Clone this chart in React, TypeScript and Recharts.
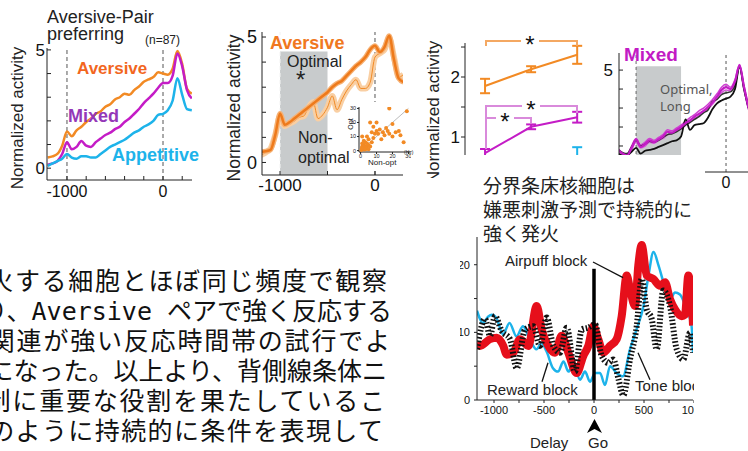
import React from 'react';
import {
  LineChart,
  Line,
  XAxis,
  YAxis,
  ReferenceLine,
  ReferenceArea,
  ErrorBar,
  ScatterChart,
  Scatter
} from 'recharts';

const FONT = '"Liberation Sans", Arial, sans-serif';
const JP = '"Noto Sans CJK JP", sans-serif';
const MONO_JP = '"DejaVu Sans Mono", "Noto Sans CJK JP", monospace';

const ORANGE = '#F28A24';
const ORANGE_TXT = '#F2661E';
const MAGENTA = '#C41CC6';
const PURPLE_TXT = '#9438B8';
const CYAN = '#1DB3EA';
const RED = '#E60F1B';
const GRAY_BOX = '#C8CBCC';
const AXIS = '#222';

// panel A / B: time in ms relative to outcome
const timeAB = [-1200, -1150, -1100, -1050, -1000, -950, -900, -850, -800, -750, -700, -650, -600, -550, -500, -450, -400, -350, -300, -250, -200, -150, -100, -50, 0, 50, 100, 150, 200, 250, 300];
const aversiveA = [0.45, 0.5, 0.6, 0.95, 1.55, 1.35, 1.6, 1.75, 1.95, 2.1, 2.3, 2.4, 2.6, 2.7, 2.9, 3.0, 3.15, 3.1, 3.3, 3.45, 3.65, 3.75, 3.85, 4.05, 4.0, 3.95, 4.2, 4.95, 4.4, 3.35, 3.15];
const mixedA = [0.15, 0.2, 0.3, 0.6, 1.1, 0.8, 0.9, 1.15, 0.95, 0.9, 1.1, 1.25, 1.4, 1.5, 1.65, 1.75, 1.95, 2.1, 2.3, 2.5, 2.75, 2.95, 3.15, 3.4, 3.6, 3.6, 3.9, 4.85, 4.3, 3.3, 2.95];
const appetitiveA = [0.1, 0.2, 0.3, 0.4, 0.6, 0.45, 0.4, 0.5, 0.5, 0.45, 0.45, 0.6, 0.75, 0.9, 1.0, 1.1, 1.2, 1.35, 1.5, 1.6, 1.75, 1.85, 2.0, 2.25, 2.3, 2.45, 2.85, 3.8, 3.1, 2.5, 2.45];
const optimalB = [0.42, 0.45, 0.5, 1.1, 1.95, 1.5, 1.6, 1.75, 1.9, 2.05, 2.2, 2.35, 2.5, 2.65, 2.8, 3.0, 3.15, 3.25, 3.45, 3.65, 3.85, 4.0, 4.2, 4.5, 4.65, 4.4, 4.6, 5.05, 4.1, 3.35, 3.2];
const nonOptimalB = [0.3, 0.4, 0.55, 1.1, 1.85, 1.45, 1.55, 1.65, 1.8, 1.85, 2.2, 2.4, 1.75, 1.9, 2.2, 2.65, 2.1, 2.5, 2.85, 3.1, 3.3, 2.95, 2.95, 3.2, 4.2, 4.35, 4.5, 4.95, 4.2, 3.4, 3.5];

// inset: firing rate (Hz), non-optimal vs optimal
const nonOptHz = [1, 2, 1, 3, 2, 4, 3, 5, 1, 2, 0.5, 3, 4, 2, 6, 5, 7, 8, 9, 10, 12, 8, 14, 15, 17, 18, 20, 22, 25, 27, 29, 18, 10, 13, 16, 4, 1, 6, 11, 20, 7, 24, 3, 5, 2, 1.5, 2.5, 0.8];
const optHz = [1, 2, 3, 1, 4, 2, 3, 4, 5, 1, 0.5, 6, 5, 7, 3, 8, 6, 9, 12, 14, 15, 17, 13, 11, 14, 12, 10, 13, 11, 6, 28, 30, 20, 8, 16, 10, 10, 20, 12, 19, 13, 14, 2, 1, 3, 2.5, 0.8, 1.8];

// panel C: three delay conditions
const condC = [1, 2, 3];
const aversiveC = [1.85, 2.13, 2.37];
const aversiveErrC = [0.12, 0.05, 0.15];
const mixedC = [0.73, 1.17, 1.33];
const mixedErrC = [0.07, 0.04, 0.09];
const appetitiveC = [0.4, 0.55, 0.68];
const appetitiveErrC = [0.1, 0.12, 0.15];

// panel D: mixed pairs
const timeD = [-1200, -1150, -1100, -1050, -1000, -950, -900, -850, -800, -750, -700, -650, -600, -550, -500, -450, -400, -350, -300, -250, -200, -150, -100, -50, 0, 50, 100, 150, 200, 250];
const mixedD1 = [0.8, 0.6, 0.5, 0.9, 1.35, 0.95, 1.1, 1.3, 1.2, 1.35, 1.5, 1.75, 1.7, 1.85, 2.0, 2.2, 2.35, 2.55, 2.7, 2.85, 3.05, 3.3, 3.6, 3.95, 4.1, 4.0, 4.4, 5.25, 4.1, 3.0];
const mixedD2 = [0.7, 0.55, 0.45, 0.8, 1.2, 0.9, 1.0, 1.2, 1.15, 1.3, 1.4, 1.6, 1.65, 1.8, 1.9, 2.1, 2.25, 2.45, 2.6, 2.8, 2.95, 3.2, 3.5, 3.8, 3.95, 3.9, 4.3, 5.2, 4.0, 2.9];
const mixedD3 = [0.85, 0.65, 0.55, 1.0, 1.4, 1.05, 1.2, 1.4, 1.3, 1.45, 1.6, 1.85, 1.8, 1.95, 2.1, 2.3, 2.5, 2.65, 2.85, 3.0, 3.2, 3.45, 3.75, 4.1, 4.25, 4.1, 4.5, 5.3, 4.2, 3.1];
const blackD1 = [0.6, 0.5, 0.5, 0.7, 0.9, 0.6, 0.75, 0.8, 0.85, 0.95, 1.05, 1.15, 1.25, 1.3, 1.5, 2.4, 1.85, 2.1, 2.15, 2.2, 2.5, 2.95, 3.25, 3.4, 3.5, 3.6, 4.0, 5.2, 4.0, 3.0];
const blackD2 = [0.8, 0.65, 0.6, 0.95, 1.3, 1.0, 1.1, 1.25, 1.2, 1.3, 1.45, 1.6, 1.65, 1.75, 1.9, 2.1, 2.25, 2.4, 2.55, 2.75, 2.9, 3.35, 3.45, 3.7, 3.8, 3.85, 4.2, 5.15, 4.05, 3.0];

// panel E: BST neuron firing (spikes/s) by block
const timeReward = [-1170, -1110, -1060, -1020, -975, -910, -845, -775, -710, -640, -575, -525, -475, -410, -360, -305, -255, -205, -140, -90, -40, 10, 60, 110, 160, 225, 290, 360, 425, 495, 545, 595, 645, 695, 760, 810, 860, 925, 975, 990];
const rewardBlock = [13.2, 11.4, 12.3, 12.6, 12.1, 9.7, 11.4, 9.4, 10.9, 8.9, 7.5, 8.4, 7.2, 4.7, 4.2, 5.7, 4.2, 5.5, 3.0, 4.2, 2.7, 4.0, 4.0, 2.2, 5.0, 4.0, 3.5, 7.5, 10.4, 13.9, 18.4, 21.9, 19.9, 17.4, 14.9, 15.9, 15.6, 13.4, 11.0, 7.0];
const timeAirpuff = [-1170, -1140, -1040, -973, -907, -873, -807, -740, -657, -573, -523, -457, -390, -323, -257, -173, -107, -57, -7, 43, 93, 160, 227, 277, 327, 360, 410, 443, 477, 527, 593, 660, 710, 760, 810, 877, 910, 943, 977, 990];
const airpuffBlock = [8.5, 8.0, 9.0, 9.2, 8.0, 6.7, 7.0, 9.0, 8.0, 13.9, 10.4, 8.0, 7.0, 9.5, 7.0, 4.0, 6.5, 8.0, 10.9, 9.0, 7.0, 8.0, 9.0, 12.4, 18.4, 16.4, 13.9, 19.9, 22.9, 18.4, 17.9, 16.9, 17.4, 14.9, 13.4, 12.4, 12.6, 18.4, 14.9, 11.0];
const timeTone = [-1170, -1090, -1040, -990, -923, -840, -773, -690, -607, -540, -473, -407, -340, -273, -190, -123, -57, 10, 77, 143, 193, 243, 293, 360, 427, 477, 527, 577, 627, 693, 760, 827, 893, 960, 990];
const toneBlock = [7.5, 12.0, 9.5, 12.4, 10.2, 9.0, 4.7, 10.4, 10.9, 8.0, 12.2, 8.0, 7.0, 10.7, 4.2, 10.4, 10.7, 11.2, 6.5, 5.5, 6.0, 3.2, 0.7, 6.0, 10.9, 17.9, 13.4, 12.0, 7.5, 16.2, 13.9, 7.5, 6.0, 9.95, 7.0];

const titleLinesE = ['分界条床核細胞は', '嫌悪刺激予測で持続的に', '強く発火'];
const bodyLines = [
  '火する細胞とほぼ同じ頻度で観察',
  'り、Aversive ペアで強く反応する',
  '関連が強い反応時間帯の試行でよ',
  'になった。以上より、背側線条体ニ',
  '制に重要な役割を果たしているこ',
  'のように持続的に条件を表現して'
];

const only = (keep: number[]) => (v: number) => (keep.includes(v) ? String(v) : '');

const abs = (left: number, top: number, extra: React.CSSProperties = {}): React.CSSProperties => ({
  position: 'absolute',
  left,
  top,
  ...extra
});

function YLabel({ cx, cy, size }: { cx: number; cy: number; size: number }) {
  return (
    <div
      style={abs(cx, cy, {
        transform: 'translate(-50%, -50%) rotate(-90deg)',
        whiteSpace: 'nowrap',
        fontSize: size,
        fontFamily: FONT,
        color: '#222',
        lineHeight: 1
      })}
    >
      Normalized activity
    </div>
  );
}

function Txt({ x, y, size, color = '#222', bold = false, children, font = FONT }: any) {
  return (
    <div
      style={abs(x, y - size * 0.6, {
        fontSize: size,
        fontWeight: bold ? 700 : 400,
        color,
        fontFamily: font,
        whiteSpace: 'nowrap',
        lineHeight: `${size * 1.2}px`
      })}
    >
      {children}
    </div>
  );
}

function PanelA() {
  const data = timeAB.map((t, i) => ({ t, aversive: aversiveA[i], mixed: mixedA[i], appetitive: appetitiveA[i] }));
  return (
    <div style={abs(0, 0)}>
      <LineChart width={215} height={215} data={data} margin={{ top: 48, right: 23, bottom: 0, left: 17 }}>
        <XAxis
          dataKey="t"
          type="number"
          domain={[-1208, 302]}
          allowDataOverflow
          ticks={[-1000, -800, -600, -400, -200, 0, 200]}
          interval={0}
          tickFormatter={only([-1000, 0])}
          tickSize={-4}
          tickMargin={10}
          height={35}
          stroke={AXIS}
          tick={{ fill: '#111', fontSize: 16, fontFamily: FONT }}
        />
        <YAxis
          type="number"
          domain={[-0.5, 5.08]}
          allowDataOverflow
          ticks={[0, 1, 2, 3, 4, 5]}
          interval={0}
          tickFormatter={only([0, 5])}
          width={30}
          tickSize={-4}
          tickMargin={6}
          stroke={AXIS}
          tick={{ fill: '#111', fontSize: 17, fontFamily: FONT }}
        />
        <ReferenceLine x={-1000} stroke="#555" strokeDasharray="4 3" />
        <ReferenceLine x={0} stroke="#555" strokeDasharray="4 3" />
        <Line type="monotone" dataKey="aversive" stroke={ORANGE} strokeWidth={2.5} dot={false} isAnimationActive={false} />
        <Line type="monotone" dataKey="mixed" stroke={MAGENTA} strokeWidth={2.5} dot={false} isAnimationActive={false} />
        <Line type="monotone" dataKey="appetitive" stroke={CYAN} strokeWidth={2.5} dot={false} isAnimationActive={false} />
      </LineChart>
    </div>
  );
}

function PanelB() {
  const data = timeAB.map((t, i) => ({ t, optimal: optimalB[i], nonOptimal: nonOptimalB[i] }));
  return (
    <div style={abs(215, 0)}>
      <LineChart width={200} height={210} data={data} margin={{ top: 32, right: 12, bottom: 0, left: 17 }}>
        <XAxis
          dataKey="t"
          type="number"
          domain={[-1190, 295]}
          allowDataOverflow
          ticks={[-1000, -500, 0]}
          interval={0}
          tickFormatter={only([-1000, 0])}
          tickSize={-4}
          tickMargin={8}
          height={35}
          stroke={AXIS}
          tick={{ fill: '#111', fontSize: 17, fontFamily: FONT }}
        />
        <YAxis
          type="number"
          domain={[-0.5, 5.2]}
          allowDataOverflow
          ticks={[0, 1, 2, 3, 4, 5]}
          interval={0}
          tickFormatter={only([0, 5])}
          width={30}
          tickSize={-4}
          tickMargin={9}
          stroke={AXIS}
          tick={{ fill: '#111', fontSize: 18, fontFamily: FONT }}
        />
        <ReferenceArea x1={-1000} x2={-500} y1={-0.5} y2={4.42} fill={GRAY_BOX} fillOpacity={1} stroke="none" />
        <ReferenceLine x={-1000} stroke="#f2f2f2" strokeDasharray="4 3" />
        <ReferenceLine x={0} stroke="#555" strokeDasharray="4 3" />
        <Line type="monotone" dataKey="nonOptimal" stroke="#F9CFA3" strokeWidth={6} dot={false} isAnimationActive={false} />
        <Line type="monotone" dataKey="nonOptimal" stroke={ORANGE} strokeWidth={1} dot={false} isAnimationActive={false} />
        <Line type="monotone" dataKey="optimal" stroke="#F6B174" strokeWidth={5} dot={false} isAnimationActive={false} />
        <Line type="monotone" dataKey="optimal" stroke="#EE7A1B" strokeWidth={2.5} dot={false} isAnimationActive={false} />
      </LineChart>
    </div>
  );
}

function InsetB() {
  const pts = nonOptHz.map((x, i) => ({ x, y: optHz[i] }));
  return (
    <div style={abs(350, 102, { width: 61, height: 66, background: '#fff' })}>
      <ScatterChart width={61} height={66} margin={{ top: 5, right: 1, bottom: 0, left: 0 }}>
        <XAxis
          dataKey="x"
          type="number"
          domain={[-1, 31]}
          allowDataOverflow
          ticks={[0, 10, 20, 30]}
          interval={0}
          tickSize={2}
          tickMargin={0}
          height={16}
          stroke={AXIS}
          tick={{ fill: '#222', fontSize: 5.5, fontFamily: FONT }}
        />
        <YAxis
          dataKey="y"
          type="number"
          domain={[-1, 31]}
          allowDataOverflow
          ticks={[0, 10, 20, 30]}
          interval={0}
          tickSize={2}
          tickMargin={1}
          width={9}
          stroke={AXIS}
          tick={{ fill: '#222', fontSize: 5.5, fontFamily: FONT }}
        />
        <ReferenceLine segment={[{ x: 0, y: 0 }, { x: 30, y: 30 }]} stroke="#aaa" strokeWidth={0.8} />
        <Scatter
          data={pts}
          fill={ORANGE}
          isAnimationActive={false}
          shape={(p: any) => <circle cx={p.cx} cy={p.cy} r={2} fill={ORANGE} />}
        />
      </ScatterChart>
    </div>
  );
}

function PanelC() {
  const data = condC.map((x, i) => ({
    x,
    aversive: aversiveC[i],
    aversiveErr: aversiveErrC[i],
    mixed: mixedC[i],
    mixedErr: mixedErrC[i],
    appetitive: appetitiveC[i],
    appetitiveErr: appetitiveErrC[i]
  }));
  return (
    <div style={abs(415, 0)}>
      <LineChart width={180} height={200} data={data} margin={{ top: 43, right: 4, bottom: 21, left: 20 }}>
        <XAxis dataKey="x" type="number" domain={[0.565, 3.3]} allowDataOverflow hide />
        <YAxis
          type="number"
          domain={[0.3, 2.567]}
          allowDataOverflow
          ticks={[1, 1.5, 2, 2.5]}
          interval={0}
          tickFormatter={only([1, 2])}
          width={30}
          tickSize={4}
          tickMargin={1}
          stroke={AXIS}
          tick={{ fill: '#111', fontSize: 17, fontFamily: FONT }}
        />
        <Line type="linear" dataKey="appetitive" stroke={CYAN} strokeWidth={2} dot={false} isAnimationActive={false}>
          <ErrorBar dataKey="appetitiveErr" width={5} strokeWidth={2} stroke={CYAN} direction="y" />
        </Line>
        <Line type="linear" dataKey="mixed" stroke={MAGENTA} strokeWidth={2} dot={false} isAnimationActive={false}>
          <ErrorBar dataKey="mixedErr" width={5} strokeWidth={2} stroke={MAGENTA} direction="y" />
        </Line>
        <Line type="linear" dataKey="aversive" stroke={ORANGE} strokeWidth={2} dot={false} isAnimationActive={false}>
          <ErrorBar dataKey="aversiveErr" width={5} strokeWidth={2} stroke={ORANGE} direction="y" />
        </Line>
      </LineChart>
    </div>
  );
}

function BracketsC() {
  const o = '#F4A862';
  const p = '#D98ADB';
  const seg = (l: number, t: number, w: number, h: number, c: string) => (
    <div style={abs(l, t, { width: w, height: h, background: c })} />
  );
  const star = (x: number, y: number) => (
    <div
      style={abs(x - 9, y - 9, {
        width: 18,
        height: 18,
        background: '#fff',
        textAlign: 'center',
        fontSize: 24,
        lineHeight: '26px',
        fontFamily: FONT,
        color: '#111'
      })}
    >
      *
    </div>
  );
  return (
    <>
      {seg(485, 40, 92, 1.5, o)}
      {seg(485, 40, 1.5, 6, o)}
      {seg(576, 40, 1.5, 6, o)}
      {star(530, 41)}
      {seg(485, 105, 92, 1.5, p)}
      {seg(485, 105, 1.5, 44, p)}
      {seg(576, 105, 1.5, 8, p)}
      {seg(485, 117, 46, 1.5, p)}
      {seg(530, 117, 1.5, 6, p)}
      {star(531, 106)}
      {star(505, 118)}
    </>
  );
}

function PanelD() {
  const data = timeD.map((t, i) => ({
    t,
    m1: mixedD1[i],
    m2: mixedD2[i],
    m3: mixedD3[i],
    b1: blackD1[i],
    b2: blackD2[i]
  }));
  return (
    <div style={abs(590, 0)}>
      <LineChart width={170} height={210} data={data} margin={{ top: 53, right: 7, bottom: 0, left: 4 }}>
        <XAxis
          dataKey="t"
          type="number"
          domain={[-1190, 300]}
          allowDataOverflow
          ticks={[0]}
          interval={0}
          tickSize={0}
          tickMargin={5}
          height={38}
          stroke={AXIS}
          tick={{ fill: '#111', fontSize: 16, fontFamily: FONT }}
        />
        <YAxis
          type="number"
          domain={[-0.37, 5.9]}
          allowDataOverflow
          ticks={[0, 1, 2, 3, 4, 5]}
          interval={0}
          tickFormatter={only([0, 5])}
          width={25}
          tickSize={-4}
          tickMargin={10}
          stroke={AXIS}
          tick={{ fill: '#111', fontSize: 17, fontFamily: FONT }}
        />
        <ReferenceArea x1={-1000} x2={-500} y1={-0.37} y2={5.2} fill={GRAY_BOX} fillOpacity={1} stroke="none" />
        <ReferenceLine x={-1000} stroke="#666" strokeDasharray="3 3" />
        <ReferenceLine x={0} stroke="#555" strokeDasharray="3 3" />
        <Line type="monotone" dataKey="m2" stroke="#D35AD6" strokeWidth={1.5} dot={false} isAnimationActive={false} />
        <Line type="monotone" dataKey="m3" stroke="#CF3FD2" strokeWidth={1.5} dot={false} isAnimationActive={false} />
        <Line type="monotone" dataKey="b2" stroke="#333" strokeWidth={1.5} dot={false} isAnimationActive={false} />
        <Line type="monotone" dataKey="b1" stroke="#111" strokeWidth={1.8} dot={false} isAnimationActive={false} />
        <Line type="monotone" dataKey="m1" stroke={MAGENTA} strokeWidth={2.2} dot={false} isAnimationActive={false} />
      </LineChart>
    </div>
  );
}

function PanelE() {
  const reward = timeReward.map((t, i) => ({ t, v: rewardBlock[i] }));
  const airpuff = timeAirpuff.map((t, i) => ({ t, v: airpuffBlock[i] }));
  const tone = timeTone.map((t, i) => ({ t, v: toneBlock[i] }));
  return (
    <div style={abs(460, 155, { width: 245, height: 296, background: '#fff' })}>
      <div
        style={abs(23, 18, {
          fontFamily: JP,
          fontSize: 19,
          lineHeight: '24px',
          color: '#222',
          whiteSpace: 'nowrap'
        })}
      >
        {titleLinesE.map((l) => (
          <div key={l}>{l}</div>
        ))}
      </div>
      <div style={abs(0, 0, { width: 234, height: 296, overflow: 'hidden' })}>
        <LineChart width={260} height={296} margin={{ top: 82, right: 27, bottom: 0, left: 0 }}>
          <XAxis
            dataKey="t"
            type="number"
            domain={[-1170, 990]}
            allowDataOverflow
            ticks={[-1000, -750, -500, -250, 0, 250, 500, 750, 1000]}
            interval={0}
            tickFormatter={only([-1000, -500, 0, 500, 1000])}
            tickSize={3}
            tickMargin={3}
            height={51}
            stroke={AXIS}
            tick={{ fill: '#111', fontSize: 11, fontFamily: FONT }}
          />
          <YAxis
            type="number"
            domain={[0, 24.1]}
            allowDataOverflow
            ticks={[0, 5, 10, 15, 20]}
            interval={0}
            tickFormatter={only([0, 10, 20])}
            width={17}
            tickSize={3}
            tickMargin={4}
            stroke={AXIS}
            tick={{ fill: '#111', fontSize: 11, fontFamily: FONT }}
          />
          <Line data={reward} type="monotone" dataKey="v" stroke={CYAN} strokeWidth={2.5} dot={false} isAnimationActive={false} />
          <Line data={airpuff} type="monotone" dataKey="v" stroke={RED} strokeWidth={8} dot={false} isAnimationActive={false} />
          <Line
            data={tone}
            type="monotone"
            dataKey="v"
            stroke="#111"
            strokeWidth={6}
            strokeDasharray="1.6 2"
            dot={false}
            isAnimationActive={false}
          />
          <ReferenceLine segment={[{ x: 0, y: 0 }, { x: 0, y: 19.4 }]} stroke="#000" strokeWidth={3.5} />
          <ReferenceLine segment={[{ x: -10, y: 20.4 }, { x: 290, y: 18.1 }]} stroke="#111" strokeWidth={1.3} />
          <ReferenceLine segment={[{ x: -520, y: 2.7 }, { x: -460, y: 5.5 }]} stroke="#111" strokeWidth={1.3} />
          <ReferenceLine segment={[{ x: 560, y: 3.0 }, { x: 440, y: 7.0 }]} stroke="#111" strokeWidth={1.3} />
        </LineChart>
        <Txt x={45} y={106} size={15}>Airpuff block</Txt>
        <Txt x={27} y={235} size={15}>Reward block</Txt>
        <Txt x={175} y={231} size={15}>Tone block</Txt>
        <Txt x={70} y={288} size={15}>Delay</Txt>
        <Txt x={128} y={288} size={15}>Go</Txt>
        <svg style={abs(127, 264)} width={15} height={14}>
          <polygon points="7.5,0 15,14 7.5,10 0,14" fill="#000" />
        </svg>
      </div>
    </div>
  );
}

function BodyText() {
  const right = [387, 392, 390, 387, 385, 383];
  const spacing = [1.7, 0, 1.8, 0, 1.8, 1.4];
  return (
    <>
      {bodyLines.map((l, i) => (
        <div
          key={i}
          style={{
            position: 'absolute',
            right: 748 - right[i] - spacing[i],
            top: 267 + i * 30,
            fontFamily: MONO_JP,
            fontSize: 25,
            letterSpacing: spacing[i],
            lineHeight: '30px',
            color: '#111',
            whiteSpace: 'nowrap'
          }}
        >
          {l}
        </div>
      ))}
    </>
  );
}

export default function App() {
  return (
    <div
      style={{
        position: 'relative',
        width: 748,
        height: 451,
        overflow: 'hidden',
        background: '#fff',
        fontFamily: FONT
      }}
    >
      <style>{'body{margin:0}'}</style>
      <PanelA />
      <YLabel cx={17} cy={118} size={17} />
      <Txt x={47} y={18} size={18}>Aversive-Pair</Txt>
      <Txt x={47} y={35} size={18}>preferring</Txt>
      <Txt x={145} y={40} size={12}>(n=87)</Txt>
      <Txt x={77} y={69} size={17} bold color={ORANGE_TXT}>Aversive</Txt>
      <Txt x={68} y={117} size={18} bold color={PURPLE_TXT}>Mixed</Txt>
      <Txt x={112} y={156} size={18} bold color={CYAN}>Appetitive</Txt>

      <PanelB />
      <YLabel cx={235} cy={108} size={17.5} />
      <Txt x={270} y={44} size={18} bold color="#F07820">Aversive</Txt>
      <Txt x={287} y={62} size={16}>Optimal</Txt>
      <Txt x={296} y={80} size={24}>*</Txt>
      <Txt x={298} y={138} size={16}>Non-</Txt>
      <Txt x={298} y={158} size={16}>optimal</Txt>
      <InsetB />
      <div
        style={abs(350, 124, {
          transform: 'translate(-50%, -50%) rotate(-90deg)',
          fontSize: 7,
          fontFamily: FONT,
          color: '#222'
        })}
      >
        Opt
      </div>
      <Txt x={368} y={163} size={8}>Non-opt</Txt>
      <Txt x={404} y={152} size={5}>(Hz)</Txt>

      <PanelC />
      <BracketsC />
      <YLabel cx={433} cy={112} size={17} />

      <PanelD />
      <Txt x={624} y={55} size={19} bold color="#C21BC4">Mixed</Txt>
      <Txt x={660} y={90} size={13} color="#555" font={'"Noto Sans", sans-serif'}>Optimal,</Txt>
      <Txt x={660} y={107} size={13} color="#555" font={'"Noto Sans", sans-serif'}>Long</Txt>

      <div style={abs(415, 178, { width: 45, height: 273, background: '#fff' })} />
      <PanelE />
      <BodyText />
    </div>
  );
}
